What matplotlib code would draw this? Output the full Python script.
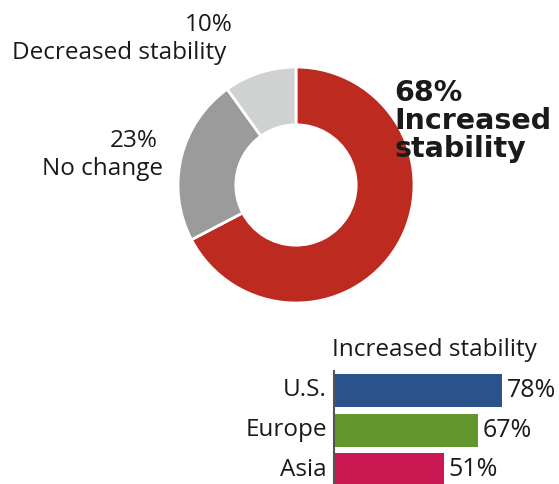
import matplotlib.pyplot as plt
import numpy as np

plt.rcParams['font.family'] = ['Open Sans', 'DejaVu Sans']

# donut: share of respondents
shares = [68, 23, 10]
share_colors = ['#bd2a20', '#9b9b9b', '#d0d2d1']

# bars: increased stability by region
regions = ['U.S.', 'Europe', 'Asia']
region_values = [78, 67, 51]
region_colors = ['#2a538c', '#62962f', '#c91852']

W, H = 559, 484
fig = plt.figure(figsize=(W / 100, H / 100), dpi=100)

def px_axes(x0, y0, x1, y1):
    # axes from pixel box (top-left origin)
    return fig.add_axes([x0 / W, 1 - y1 / H, (x1 - x0) / W, (y1 - y0) / H])

# --- donut ---
cx, cy, r = 296, 185, 118
ax = px_axes(cx - r, cy - r, cx + r, cy + r)
ax.pie(shares, colors=share_colors, startangle=90, counterclock=False,
       radius=1, wedgeprops=dict(width=0.49, edgecolor='white', linewidth=2))
ax.set_xlim(-1, 1)
ax.set_ylim(-1, 1)
ax.set_aspect('auto')
ax.axis('off')

fs = 17.5
ink = '#1a1a1a'
fig.text(233 / W, 1 - 25 / H, f'{shares[2]}%', ha='right', va='center', fontsize=fs, color=ink)
fig.text(226 / W, 1 - 53 / H, 'Decreased stability', ha='right', va='center', fontsize=fs, color=ink)
fig.text(158 / W, 1 - 141 / H, f'{shares[1]}%', ha='right', va='center', fontsize=fs, color=ink)
fig.text(163 / W, 1 - 169 / H, 'No change', ha='right', va='center', fontsize=fs, color=ink)
fig.text(394 / W, 1 - 121 / H, f'{shares[0]}%\nIncreased\nstability', ha='left', va='center',
         fontsize=20.5, fontweight='bold', family='DejaVu Sans', color=ink, linespacing=0.98)

# --- bars ---
px_per_pct = 2.15
top, step = 370.6, 39.75
bx = px_axes(334, top, 334 + 100 * px_per_pct, top + 3 * step)
y = np.arange(len(regions))
bx.barh(y, region_values, height=0.83, color=region_colors)
bx.set_xlim(0, 100)
bx.set_ylim(2.5, -0.5)
for s in ['top', 'right', 'bottom']:
    bx.spines[s].set_visible(False)
bx.spines['left'].set_color('#555555')
bx.spines['left'].set_linewidth(1.5)
bx.set_xticks([])
bx.set_yticks([])
for i, (name, v) in enumerate(zip(regions, region_values)):
    bx.text(-3.2, i, name, ha='right', va='center', fontsize=fs, color=ink)
    bx.text(v + 2.2, i, f'{v}%', ha='left', va='center', fontsize=fs + 0.5, color=ink)
fig.text(332 / W, 1 - 350 / H, 'Increased stability', ha='left', va='center', fontsize=fs, color=ink)

fig.savefig('out.png', dpi=100)
